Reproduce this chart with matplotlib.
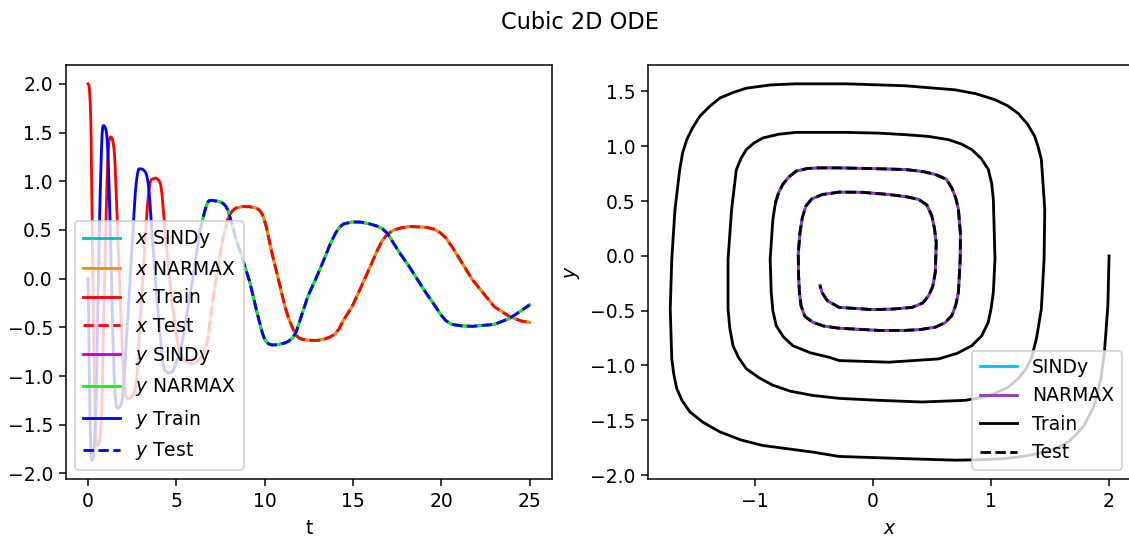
import matplotlib
matplotlib.use("Agg")
import matplotlib.pyplot as plt

# training trajectory (t, x, y)
t_train = [0.00, 0.035, 0.065, 0.08, 0.10, 0.112, 0.125, 0.137, 0.15, 0.16,
           0.17, 0.182, 0.195, 0.21, 0.225, 0.255, 0.295, 0.315, 0.35, 0.37,
           0.39, 0.407, 0.425, 0.443, 0.46, 0.475, 0.49, 0.53, 0.58, 0.63,
           0.675, 0.695, 0.715, 0.733, 0.75, 0.768, 0.785, 0.80, 0.815, 0.835,
           0.855, 0.91, 0.975, 1.03, 1.055, 1.08, 1.10, 1.12, 1.142, 1.165,
           1.182, 1.20, 1.27, 1.33, 1.39, 1.43, 1.465, 1.487, 1.51, 1.535,
           1.56, 1.587, 1.615, 1.69, 1.77, 1.84, 1.89, 1.93, 1.97, 2.005,
           2.04, 2.075, 2.11, 2.16, 2.22, 2.37, 2.52, 2.64, 2.68, 2.72,
           2.76, 2.80, 2.84, 2.88, 3.02, 3.11, 3.19, 3.26, 3.32, 3.365,
           3.41, 3.455, 3.50, 3.55, 3.60, 3.82, 3.96, 4.03, 4.10, 4.15,
           4.20, 4.26, 4.33, 4.55, 4.78, 4.86, 4.95, 5.10, 5.22, 5.35,
           5.47, 5.62, 5.90, 6.20, 6.33]
x_train = [2.00, 1.99, 1.96, 1.93, 1.876, 1.83, 1.79, 1.72, 1.65, 1.56,
           1.455, 1.30, 1.117, 0.90, 0.696, 0.274, -0.288, -0.513, -0.935, -1.12,
           -1.30, -1.44, -1.553, -1.62, -1.665, -1.69, -1.707, -1.72, -1.707, -1.68,
           -1.64, -1.615, -1.58, -1.53, -1.47, -1.39, -1.30, -1.19, -1.075, -0.87,
           -0.653, -0.23, 0.274, 0.696, 0.87, 1.033, 1.14, 1.23, 1.31, 1.37,
           1.40, 1.426, 1.455, 1.449, 1.426, 1.384, 1.34, 1.29, 1.23, 1.14,
           1.033, 0.91, 0.78, 0.414, 0.05, -0.288, -0.513, -0.70, -0.85, -0.97,
           -1.075, -1.14, -1.188, -1.215, -1.23, -1.23, -1.20, -1.16, -1.12, -1.075,
           -1.01, -0.935, -0.80, -0.653, -0.23, 0.05, 0.274, 0.47, 0.64, 0.75,
           0.836, 0.915, 0.976, 1.005, 1.019, 1.033, 1.019, 1.0, 0.976, 0.92,
           0.836, 0.71, 0.555, 0.133, -0.288, -0.373, -0.53, -0.68, -0.76, -0.822,
           -0.85, -0.864, -0.873, -0.85, -0.828]
y_train = [0.00, -0.45, -0.89, -1.12, -1.36, -1.46, -1.545, -1.63, -1.70, -1.75,
           -1.79, -1.825, -1.85, -1.86, -1.864, -1.85, -1.83, -1.79, -1.73, -1.68,
           -1.605, -1.52, -1.424, -1.32, -1.21, -1.08, -0.94, -0.485, -0.03, 0.42,
           0.785, 0.94, 1.06, 1.17, 1.273, 1.36, 1.44, 1.49, 1.53, 1.56,
           1.57, 1.57, 1.552, 1.515, 1.48, 1.425, 1.37, 1.30, 1.20, 1.09,
           0.99, 0.88, 0.425, -0.03, -0.485, -0.757, -0.94, -1.04, -1.12, -1.20,
           -1.255, -1.295, -1.318, -1.333, -1.318, -1.30, -1.273, -1.235, -1.18, -1.11,
           -1.03, -0.93, -0.82, -0.66, -0.485, -0.03, 0.42, 0.785, 0.89, 0.97,
           1.03, 1.076, 1.11, 1.127, 1.127, 1.12, 1.106, 1.09, 1.06, 1.02,
           0.97, 0.89, 0.79, 0.66, 0.515, -0.03, -0.333, -0.48, -0.605, -0.73,
           -0.82, -0.89, -0.94, -0.97, -0.955, -0.925, -0.885, -0.82, -0.74, -0.636,
           -0.50, -0.333, -0.03, 0.333, 0.485]

# test trajectory
t_test = [6.33, 6.45, 6.55, 6.65, 6.75, 6.83, 6.90, 7.02, 7.30, 7.50,
          7.66, 7.80, 7.93, 8.05, 8.20, 8.35, 8.75, 9.15, 9.55, 9.71,
          9.85, 9.97, 10.10, 10.25, 10.40, 10.70, 11.15, 11.38, 11.60, 11.78,
          11.95, 12.18, 12.45, 12.95, 13.40, 13.70, 13.98, 14.20, 14.45, 14.95,
          15.45, 16.00, 16.35, 16.65, 16.95, 17.30, 17.70, 18.20, 19.15, 19.65,
          19.95, 20.25, 20.60, 21.15, 21.75, 23.00, 23.85, 24.50, 25.00]
x_test = [-0.828, -0.80, -0.766, -0.715, -0.653, -0.56, -0.457, -0.288, 0.05, 0.274,
          0.42, 0.527, 0.62, 0.667, 0.70, 0.723, 0.74, 0.738, 0.723, 0.70,
          0.667, 0.61, 0.527, 0.40, 0.274, 0.05, -0.288, -0.42, -0.513, -0.58,
          -0.611, -0.625, -0.632, -0.635, -0.62, -0.60, -0.57, -0.52, -0.43, -0.288,
          -0.09, 0.133, 0.28, 0.386, 0.455, 0.498, 0.52, 0.535, 0.527, 0.505,
          0.47, 0.42, 0.33, 0.17, -0.008, -0.288, -0.387, -0.434, -0.45]
y_test = [0.485, 0.58, 0.652, 0.72, 0.773, 0.797, 0.803, 0.803, 0.795, 0.788,
          0.77, 0.743, 0.70, 0.62, 0.53, 0.425, 0.20, -0.03, -0.333, -0.45,
          -0.545, -0.61, -0.65, -0.672, -0.68, -0.68, -0.66, -0.64, -0.605, -0.55,
          -0.455, -0.33, -0.18, 0.02, 0.213, 0.35, 0.455, 0.52, 0.56, 0.582,
          0.58, 0.56, 0.54, 0.515, 0.465, 0.364, 0.25, 0.12, -0.15, -0.28,
          -0.364, -0.43, -0.47, -0.485, -0.49, -0.47, -0.41, -0.333, -0.27]

# model predictions lie on top of the test data
x_sindy, y_sindy = x_test, y_test
x_narmax, y_narmax = x_test, y_test

DPI = 135
W, H = 1129.0, 541.0
fig = plt.figure(figsize=(W / DPI, H / DPI), dpi=DPI)
ax1 = fig.add_axes([66 / W, 1 - 479 / H, (551.6 - 66) / W, (479 - 65) / H])
ax2 = fig.add_axes([648.3 / W, 1 - 479 / H, (1131 - 648.3) / W, (479 - 65) / H])

ax1.plot(t_test, x_sindy, "c", label="$x$ SINDy")
ax1.plot(t_test, x_narmax, color="darkorange", label="$x$ NARMAX")
ax1.plot(t_train, x_train, "r", label="$x$ Train")
ax1.plot(t_test, x_test, "r--", label="$x$ Test")
ax1.plot(t_test, y_sindy, "m", label="$y$ SINDy")
ax1.plot(t_test, y_narmax, color="lime", label="$y$ NARMAX")
ax1.plot(t_train, y_train, "b", label="$y$ Train")
ax1.plot(t_test, y_test, "b--", label="$y$ Test")
ax1.legend(loc="lower left")
ax1.set_xlabel("t")

ax2.plot(x_sindy, y_sindy, color="deepskyblue", label="SINDy")
ax2.plot(x_narmax, y_narmax, color="darkorchid", label="NARMAX")
ax2.plot(x_train, y_train, "k", label="Train")
ax2.plot(x_test, y_test, "k--", label="Test")
ax2.set_xticks([-1, 0, 1, 2])
ax2.legend(loc="lower right")
ax2.set_xlabel("$x$")
ax2.set_ylabel("$y$")

fig.suptitle("Cubic 2D ODE", x=0.514, y=0.98)

fig.savefig("out.png", dpi=DPI)
